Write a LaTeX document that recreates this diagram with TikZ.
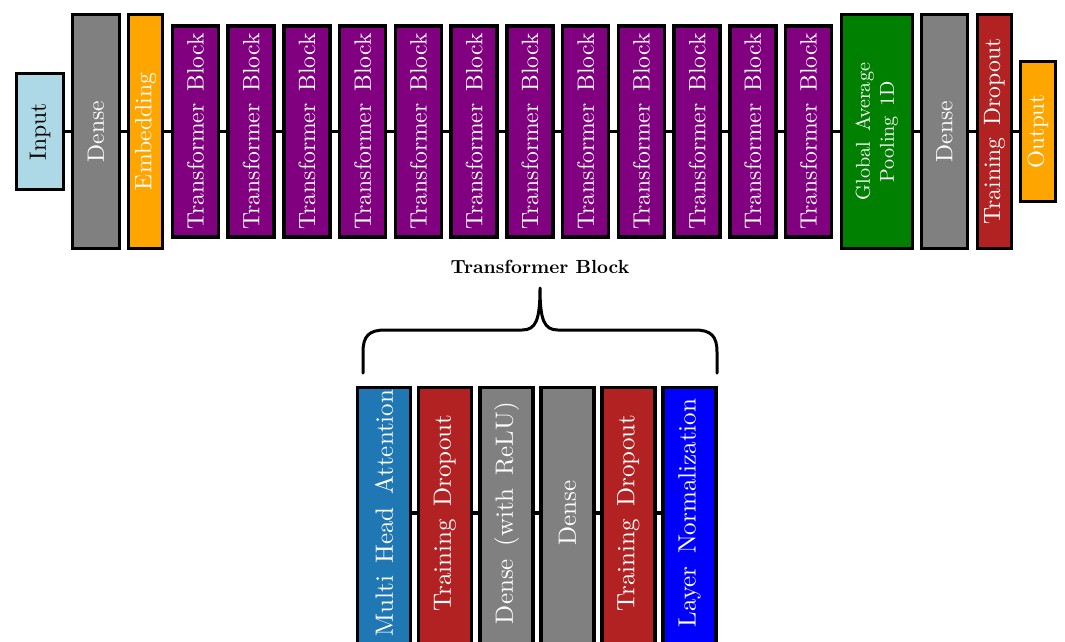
\documentclass[tikz,border=0pt]{standalone}
\usepackage{fontspec}
\usepackage{graphicx}
\definecolor{cInput}{HTML}{ADD8E6}
\definecolor{cGray}{HTML}{808080}
\definecolor{cOrange}{HTML}{FFA500}
\definecolor{cPurple}{HTML}{800080}
\definecolor{cGreen}{HTML}{008000}
\definecolor{cRed}{HTML}{B22222}
\definecolor{cTab}{HTML}{1F77B4}
\definecolor{cBlue}{HTML}{0000FF}
% text set in the 10pt design and scaled up
\newcommand{\rt}[2]{\rotatebox{90}{\scalebox{#1}{\fontsize{10}{12}\selectfont\spaceskip=5pt\relax #2}}}
\newcommand{\capfnt}{\fontsize{10}{12}\selectfont\bfseries}
\tikzset{
  blk/.style={draw=black, line width=3.5pt, inner sep=0pt, text=white},
  tallblk/.style={blk, minimum height=234pt},
  tfblk/.style={blk, fill=cPurple, minimum width=46pt, minimum height=211pt},
  botblk/.style={blk, minimum width=53pt, minimum height=275pt, anchor=north},
  conn/.style={draw=black, line width=3.5pt},
  bracepath/.style={draw=black, line width=3pt, line cap=round, line join=round}
}
\begin{document}
\begin{tikzpicture}[x=1pt,y=-1pt]
\useasboundingbox (0,0) rectangle (1065,641);
\begin{scope}
\clip (0,0) rectangle (1065,641);
% top row
\node[blk, fill=cInput, text=black, minimum width=47pt, minimum height=116pt] (in) at (40,131.5) {\rt{2.36}{Input}};
\node[tallblk, fill=cGray, minimum width=47pt] (d1) at (96,131.5) {\rt{2.36}{Dense}};
\node[tallblk, fill=cOrange, minimum width=34pt] (emb) at (145.5,131.5) {\rt{2.36}{Embedding}};
\foreach \i in {1,...,12}{
  \node[tfblk] (t\i) at ({195.5+(\i-1)*55.73},131.5) {\rt{2.36}{Transformer Block}};
}
\node[tallblk, fill=cGreen, minimum width=71pt] (gap) at (877,131.5) {\rt{2.01}{\begin{tabular}{@{}c@{}}Global Average\\Pooling 1D\end{tabular}}};
\node[tallblk, fill=cGray, minimum width=46pt] (d2) at (944.5,131.5) {\rt{2.36}{Dense}};
\node[tallblk, fill=cRed, minimum width=34pt] (drop) at (994.5,131.5) {\rt{2.36}{Training Dropout}};
\node[blk, fill=cOrange, minimum width=35pt, minimum height=140pt] (out) at (1038,131.5) {\rt{2.3}{Output}};
% top connectors
\draw[conn] (in.east) -- (d1.west);
\draw[conn] (d1.east) -- (emb.west);
\draw[conn] (emb.east) -- (t1.west);
\foreach \i [evaluate=\i as \j using int(\i+1)] in {1,...,11}{
  \draw[conn] (t\i.east) -- (t\j.west);
}
\draw[conn] (t12.east) -- (gap.west);
\draw[conn] (gap.east) -- (d2.west);
\draw[conn] (d2.east) -- (drop.west);
\draw[conn] (drop.east) -- (out.west);
% caption and brace
\node[inner sep=0pt] (cap) at (540,267) {\scalebox{1.9}{\capfnt Transformer Block}};
\coordinate (tip) at (540,288);
\coordinate (bl) at (363,373);
\coordinate (br) at (717,373);
\draw[bracepath] (bl) -- (363,352) .. controls (363,336) and (369,330) .. (385,330) -- (522,330) .. controls (536,330) and (540,320) .. (tip)
  .. controls (540,320) and (544,330) .. (558,330) -- (695,330) .. controls (711,330) and (717,336) .. (717,352) -- (br);
% bottom row (boxes run past the lower edge)
\coordinate (mid) at (0,513);
\begin{scope}[every node/.append style={text depth=0pt}]
\node[botblk, fill=cTab] (b1) at (384,385.75) {};
\node[botblk, fill=cRed] (b2) at (445,385.75) {};
\node[botblk, fill=cGray] (b3) at (506.5,385.75) {};
\node[botblk, fill=cGray] (b4) at (567.5,385.75) {};
\node[botblk, fill=cRed] (b5) at (628.5,385.75) {};
\node[botblk, fill=cBlue] (b6) at (689.5,385.75) {};
\end{scope}
\node[text=white, inner sep=0pt] (l1) at (b1 |- mid) {\rt{2.5}{Multi Head Attention}};
\node[text=white, inner sep=0pt] (l2) at (b2 |- mid) {\rt{2.5}{Training Dropout}};
\node[text=white, inner sep=0pt] (l3) at (b3 |- mid) {\rt{2.5}{Dense (with ReLU)}};
\node[text=white, inner sep=0pt] (l4) at (b4 |- mid) {\rt{2.5}{Dense}};
\node[text=white, inner sep=0pt] (l5) at (b5 |- mid) {\rt{2.5}{Training Dropout}};
\node[text=white, inner sep=0pt] (l6) at (b6 |- mid) {\rt{2.5}{Layer Normalization}};
\draw[conn] (b1.east |- mid) -- (b2.west |- mid);
\draw[conn] (b2.east |- mid) -- (b3.west |- mid);
\draw[conn] (b3.east |- mid) -- (b4.west |- mid);
\draw[conn] (b4.east |- mid) -- (b5.west |- mid);
\draw[conn] (b5.east |- mid) -- (b6.west |- mid);
\end{scope}
\end{tikzpicture}
\end{document}
